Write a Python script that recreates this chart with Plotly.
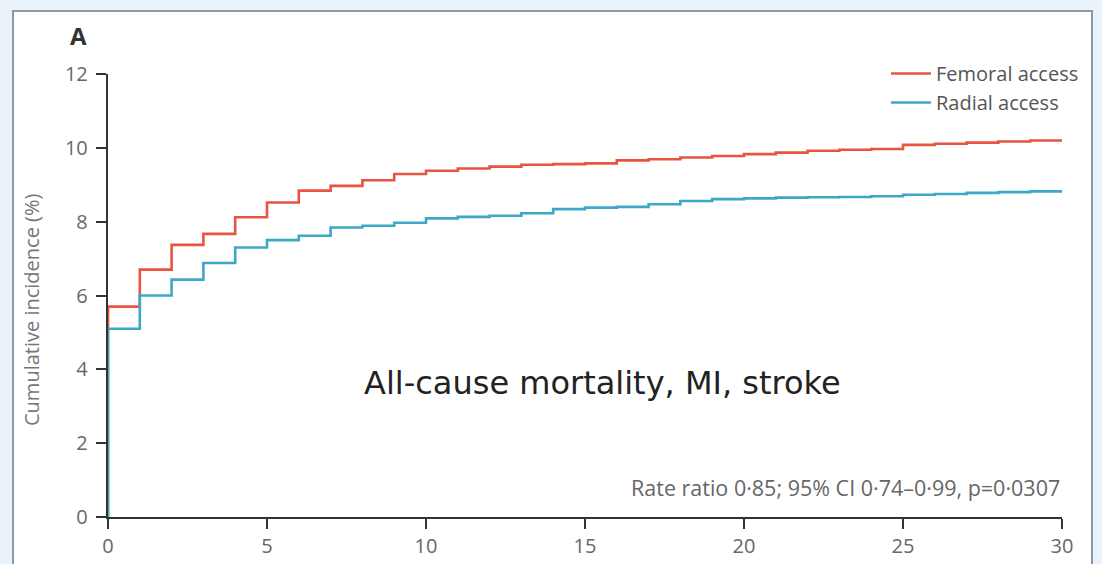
import plotly.graph_objects as go

# Follow-up day and cumulative incidence (%) at each step
days = list(range(0, 31))
femoral = [5.70, 6.70, 7.37, 7.67, 8.12, 8.52, 8.84, 8.97, 9.12, 9.29,
           9.38, 9.44, 9.49, 9.54, 9.56, 9.58, 9.66, 9.69, 9.74, 9.78,
           9.83, 9.87, 9.92, 9.95, 9.97, 10.08, 10.11, 10.14, 10.17, 10.20,
           10.22]
radial = [5.10, 6.00, 6.43, 6.88, 7.30, 7.50, 7.62, 7.84, 7.89, 7.97,
          8.09, 8.13, 8.16, 8.23, 8.34, 8.38, 8.40, 8.47, 8.56, 8.61,
          8.63, 8.65, 8.66, 8.67, 8.69, 8.73, 8.75, 8.78, 8.80, 8.82,
          8.83]

x_ticks = [0, 5, 10, 15, 20, 25, 30]
y_ticks = [0, 2, 4, 6, 8, 10, 12]

series_names = ["Femoral access", "Radial access"]
series_colors = ["#e8543f", "#3ca8c6"]

W, H = 1102, 564
M_L, M_R, M_T, M_B = 108, 40, 74, 47
PW, PH = W - M_L - M_R, H - M_T - M_B


def px_x(p):
    return (p - M_L) / PW


def px_y(p):
    return (H - M_B - p) / PH


fig = go.Figure()
for name, vals, col in zip(series_names, [femoral, radial], series_colors):
    fig.add_trace(go.Scatter(
        x=[0] + days, y=[0] + vals, mode="lines", name=name,
        line=dict(color=col, width=2.6, shape="hv"),
        cliponaxis=False, legendgroup=name,
    ))

axis_common = dict(
    showline=True, linecolor="#333333", linewidth=2.4,
    ticks="outside", ticklen=10, tickwidth=2.4, tickcolor="#333333",
    showgrid=False, zeroline=False, layer="below traces", automargin=False,
    tickfont=dict(family="Open Sans", size=20, color="#686868"),
)

fig.update_layout(
    width=W, height=H,
    margin=dict(l=M_L, r=M_R, t=M_T, b=M_B),
    paper_bgcolor="#eaf3f9", plot_bgcolor="rgba(0,0,0,0)",
    xaxis=dict(range=[0, 30], tickvals=x_ticks, **axis_common),
    yaxis=dict(range=[0, 12], tickvals=y_ticks, ticklabelstandoff=4, **axis_common),
    legend=dict(
        x=px_x(886), y=px_y(54), xanchor="left", yanchor="top",
        font=dict(family="Open Sans", size=20, color="#555555"),
        bgcolor="rgba(0,0,0,0)", traceorder="grouped", tracegroupgap=0,
        itemwidth=40,
    ),
    showlegend=True,
)

# white panel with grey frame
fig.add_shape(type="rect", xref="paper", yref="paper", layer="below",
              x0=px_x(13), x1=px_x(1092), y0=px_y(575), y1=px_y(11),
              fillcolor="white", line=dict(color="#8e9aa3", width=2))

fig.add_annotation(text="<b>A</b>", xref="paper", yref="paper",
                   x=px_x(78), y=px_y(36), xanchor="center", yanchor="middle",
                   showarrow=False,
                   font=dict(family="Open Sans", size=24, color="#333333"))
fig.add_annotation(text="Cumulative incidence (%)", xref="paper", yref="paper",
                   x=px_x(31), y=px_y(310), xanchor="center", yanchor="middle",
                   showarrow=False, textangle=-90,
                   font=dict(family="Open Sans", size=20, color="#777777"))
fig.add_annotation(text="All-cause mortality, MI, stroke", xref="x", yref="y",
                   x=15.56, y=3.62, xanchor="center", yanchor="middle",
                   showarrow=False,
                   font=dict(family="DejaVu Sans", size=32, color="#222222"))
fig.add_annotation(text="Rate ratio 0·85; 95% CI 0·74–0·99, p=0·0307",
                   xref="x", yref="y", x=30, y=0.81, xanchor="right",
                   yanchor="middle", showarrow=False,
                   font=dict(family="Open Sans", size=21.5, color="#666666"))

fig.write_html("out.html")
